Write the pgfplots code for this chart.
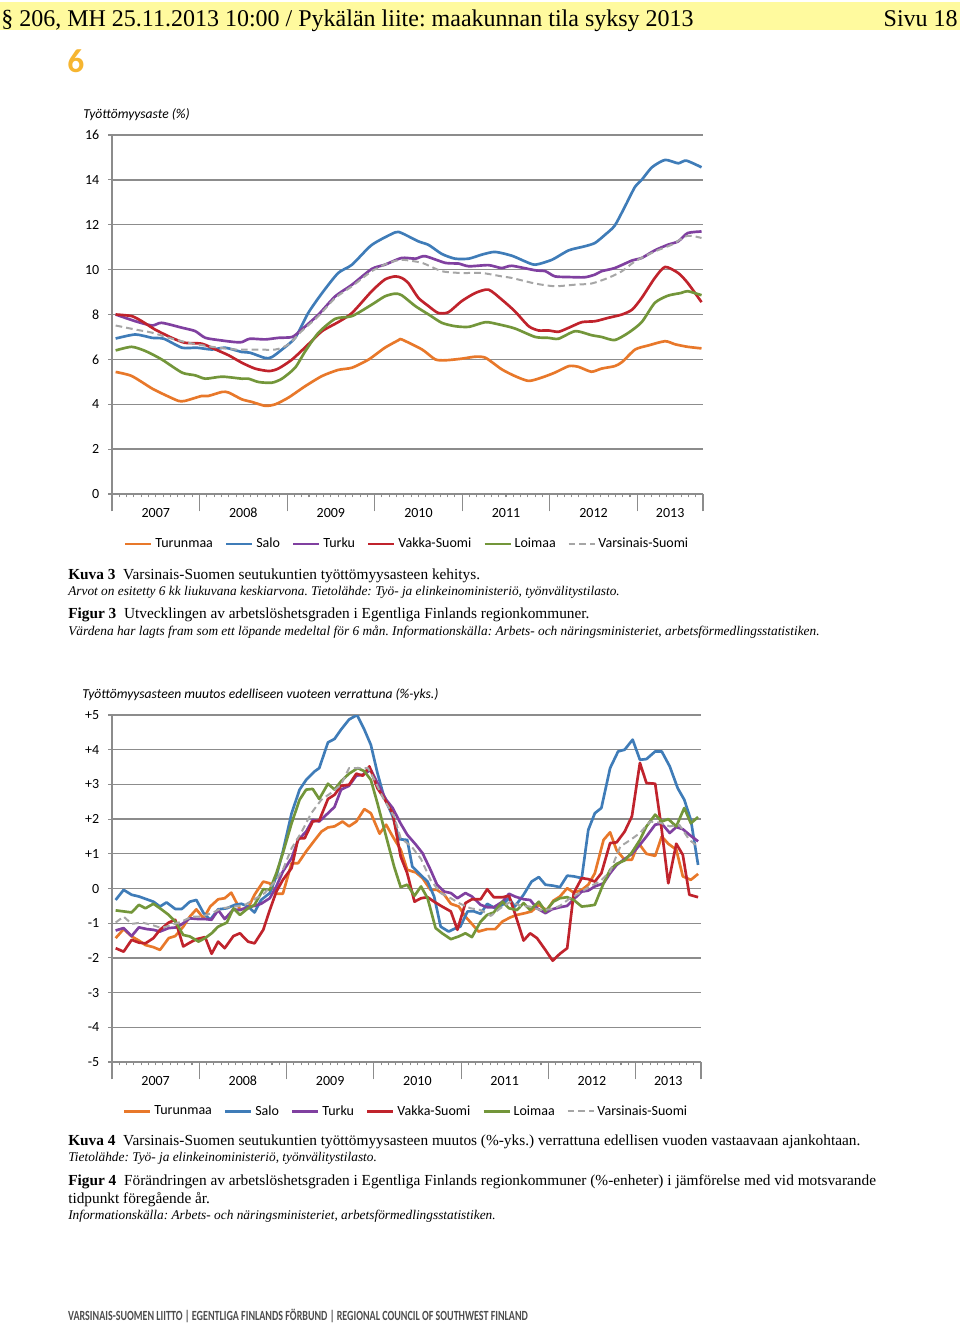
\documentclass[border=0pt]{standalone}
\usepackage{fontspec}
\setmainfont{Liberation Serif}
\newfontfamily\carlito{Carlito}
\usepackage{pgfplots}
\pgfplotsset{compat=1.18}
\frenchspacing

\definecolor{cTurunmaa}{HTML}{E8782A}
\definecolor{cSalo}{HTML}{3F7CB8}
\definecolor{cTurku}{HTML}{8040A0}
\definecolor{cVakka}{HTML}{C0232C}
\definecolor{cLoimaa}{HTML}{73963A}
\definecolor{cVS}{HTML}{A6A6A6}
\definecolor{gridgray}{HTML}{8C8C8C}
\definecolor{headyellow}{HTML}{FFFA9E}
\definecolor{numorange}{HTML}{F6B530}
\definecolor{footgray}{HTML}{4D4D4D}

\pgfplotsset{
  kuva/.style={
    scale only axis,
    xmin=-0.5, xmax=80.5,
    axis lines*=left,
    axis line style={gridgray, line width=1pt},
    tick align=outside,
    tick pos=left,
    major tick length=3pt,
    minor tick length=2.5pt,
    tick style={gridgray, line width=0.8pt},
    xtick={5.5,17.5,29.5,41.5,53.5,65.5,76},
    xticklabels={2007,2008,2009,2010,2011,2012,2013},
    major x tick style={draw=none},
    minor xtick={0.5,1.5,...,79.5},
    extra x ticks={-0.5,11.5,23.5,35.5,47.5,59.5,71.5,80.5},
    extra x tick labels={,,,,,,,},
    extra x tick style={major tick length=13pt, major x tick style={draw=gridgray}},
    ymajorgrids,
    grid style={gridgray, line width=1pt},
    tick label style={font=\carlito\fontsize{10.5}{12}\selectfont, text=black},
    xticklabel style={text height=7.5pt, text depth=0pt, yshift=-3.6pt},
    yticklabel style={xshift=-3pt},
    legend style={draw=none, fill=none, legend columns=-1,
      font=\carlito\fontsize{10.5}{12}\selectfont, anchor=center,
      /tikz/every even column/.append style={column sep=7pt}},
    legend image code/.code={\draw[#1] (0pt,0pt) -- (19.5pt,0pt);},
    every axis plot/.append style={line width=2pt, line join=round},
  },
}

\begin{document}
\begin{tikzpicture}
\path[use as bounding box] (0,0) rectangle (720pt,-993.75pt);

\begin{scope}[x=0.75pt,y=-0.75pt]
\fill[headyellow] (0,2) rectangle (960,30);
\node[anchor=base west, inner sep=0, font=\fontsize{18}{20}\selectfont] at (1,26) {§ 206, MH 25.11.2013 10:00 / Pykälän liite: maakunnan tila syksy 2013};
\node[anchor=base east, inner sep=0, font=\fontsize{18}{20}\selectfont] at (958,26) {Sivu 18};
\node[anchor=base west, inner sep=0, text=numorange, font=\carlito\bfseries\fontsize{25}{25}\selectfont] at (67,72) {6};
\node[anchor=base west, inner sep=0, font=\carlito\itshape\fontsize{10.2}{12}\selectfont] at (83,118) {Työttömyysaste (\%)};
\node[anchor=base west, inner sep=0, font=\carlito\itshape\fontsize{10.2}{12}\selectfont] at (82,698) {Työttömyysasteen muutos edelliseen vuoteen verrattuna (\%-yks.)};

\node[anchor=base west, inner sep=0, font=\fontsize{11.5}{13}\selectfont] at (68,579) {\textbf{Kuva 3}\enspace Varsinais-Suomen seutukuntien työttömyysasteen kehitys.};
\node[anchor=base west, inner sep=0, font=\itshape\fontsize{10}{11}\selectfont] at (68,595) {Arvot on esitetty 6 kk liukuvana keskiarvona. Tietolähde: Työ- ja elinkeinoministeriö, työnvälitystilasto.};
\node[anchor=base west, inner sep=0, font=\fontsize{11.5}{13}\selectfont] at (68,618) {\textbf{Figur 3}\enspace Utvecklingen av arbetslöshetsgraden i Egentliga Finlands regionkommuner.};
\node[anchor=base west, inner sep=0, font=\itshape\fontsize{10}{11}\selectfont] at (68,635) {Värdena har lagts fram som ett löpande medeltal för 6 mån. Informationskälla: Arbets- och näringsministeriet, arbetsförmedlingsstatistiken.};

\node[anchor=base west, inner sep=0, font=\fontsize{11.5}{13}\selectfont] at (68,1145) {\textbf{Kuva 4}\enspace Varsinais-Suomen seutukuntien työttömyysasteen muutos (\%-yks.) verrattuna edellisen vuoden vastaavaan ajankohtaan.};
\node[anchor=base west, inner sep=0, font=\itshape\fontsize{10}{11}\selectfont] at (68,1161) {Tietolähde: Työ- ja elinkeinoministeriö, työnvälitystilasto.};
\node[anchor=base west, inner sep=0, font=\fontsize{11.5}{13}\selectfont] at (68,1185) {\textbf{Figur 4}\enspace Förändringen av arbetslöshetsgraden i Egentliga Finlands regionkommuner (\%-enheter) i jämförelse med vid motsvarande};
\node[anchor=base west, inner sep=0, font=\fontsize{11.5}{13}\selectfont] at (68,1203) {tidpunkt föregående år.};
\node[anchor=base west, inner sep=0, font=\itshape\fontsize{10}{11}\selectfont] at (68,1219) {Informationskälla: Arbets- och näringsministeriet, arbetsförmedlingsstatistiken.};

\node[anchor=base west, inner sep=0, xscale=0.717, text=footgray, font=\carlito\bfseries\fontsize{10.5}{12}\selectfont] at (68,1320) {VARSINAIS-SUOMEN LIITTO | EGENTLIGA FINLANDS FÖRBUND | REGIONAL COUNCIL OF SOUTHWEST FINLAND};
\end{scope}

% Kuva 3: unemployment rate, 6-month moving average
\begin{axis}[kuva,
  at={(84pt,-370.5pt)}, anchor=south west,
  width=443.25pt, height=269.25pt,
  ymin=0, ymax=16,
  ytick={0,2,...,16},
  yticklabels={0,2,4,6,8,10,12,14,16},
  legend style={at={(0.5,-0.139)}},
  every axis plot/.append style={smooth, tension=0.4},
]
\addplot[cTurunmaa] coordinates {(0,5.44)(2.2,5.26)(5.0,4.7)(6.8,4.41)(8.6,4.15)(9.5,4.15)(11.8,4.37)(12.7,4.37)(14.6,4.55)(15.5,4.52)(17.3,4.22)(18.7,4.1)(20.5,3.93)(21.9,4.0)(23.7,4.3)(26.0,4.81)(28.3,5.26)(30.5,5.53)(32.4,5.63)(34.7,6.0)(36.9,6.52)(38.8,6.86)(39.2,6.89)(42.0,6.44)(43.8,6.0)(45.2,5.96)(47.4,6.03)(49.3,6.12)(50.7,6.07)(52.9,5.56)(54.7,5.26)(56.6,5.04)(58.4,5.19)(60.2,5.41)(62.1,5.7)(63.4,5.67)(65.2,5.45)(66.6,5.59)(68.4,5.7)(69.4,5.88)(71.2,6.44)(73.0,6.62)(75.3,6.81)(76.7,6.67)(78.4,6.56)(80.3,6.49)};
\addplot[cSalo] coordinates {(0,6.93)(2.7,7.11)(5,6.96)(6.6,6.92)(9.1,6.52)(11.1,6.52)(13.2,6.44)(15,6.52)(17.3,6.33)(18.4,6.3)(20.5,6.06)(21.4,6.1)(22.8,6.44)(24.6,6.96)(26.4,8.07)(28.3,8.96)(30.5,9.85)(32.4,10.22)(35.1,11.1)(38.3,11.66)(39.2,11.63)(41.5,11.26)(42.9,11.1)(44.7,10.7)(46.5,10.49)(48.4,10.49)(50.2,10.67)(52,10.79)(54.3,10.62)(56.1,10.37)(57.5,10.22)(59.8,10.44)(62.1,10.86)(64.3,11.04)(65.7,11.19)(67.1,11.56)(68.4,11.96)(69.8,12.81)(71.2,13.7)(72.1,14.0)(73.5,14.56)(75.3,14.89)(77.1,14.74)(78.2,14.86)(80.3,14.56)};
\addplot[cTurku] coordinates {(0,8.0)(2.7,7.7)(5,7.51)(6.3,7.63)(9.1,7.41)(10.9,7.26)(12.3,6.96)(14.6,6.84)(16.4,6.77)(17.3,6.77)(18.4,6.92)(20.5,6.89)(22.3,6.96)(24.2,7.0)(25.5,7.33)(27.8,8.0)(30.1,8.81)(32.4,9.33)(35.1,10.03)(36.9,10.22)(39.2,10.52)(41.1,10.49)(42.4,10.6)(45.2,10.3)(47.0,10.27)(48.4,10.15)(51.1,10.2)(52.9,10.07)(54.3,10.17)(57.5,9.97)(58.9,9.93)(60.2,9.7)(62.1,9.67)(64.3,9.66)(65.7,9.78)(66.6,9.93)(68.4,10.07)(70.8,10.41)(72.1,10.52)(73.9,10.86)(75.7,11.11)(77.1,11.26)(78.4,11.63)(80.3,11.7)};
\addplot[cVakka] coordinates {(0,8.0)(2.2,7.93)(3.6,7.7)(5.4,7.33)(7.7,6.96)(9.5,6.74)(11.8,6.7)(13.7,6.44)(15.5,6.18)(17.3,5.85)(19.1,5.59)(21.0,5.48)(22.3,5.59)(24.2,6.0)(26.4,6.67)(28.3,7.26)(30.5,7.66)(32.4,8.07)(35.1,9.04)(36.9,9.56)(38.3,9.7)(39.2,9.63)(40.1,9.41)(41.5,8.74)(42.9,8.37)(44.2,8.07)(45.6,8.1)(47.4,8.59)(49.3,8.96)(51.1,9.11)(52.9,8.67)(54.7,8.15)(56.6,7.48)(57.95,7.29)(59.3,7.29)(60.7,7.23)(62.1,7.41)(63.9,7.66)(65.7,7.7)(67.5,7.85)(69.4,8.0)(70.8,8.22)(72.1,8.74)(73.9,9.63)(75.3,10.12)(77.1,9.85)(78.4,9.41)(80.3,8.55)};
\addplot[cLoimaa] coordinates {(0,6.4)(2.2,6.56)(4.1,6.37)(6.3,6.0)(9.1,5.41)(10.9,5.29)(12.3,5.14)(14.6,5.23)(17.3,5.14)(18.2,5.14)(19.6,4.99)(21.4,4.96)(22.8,5.14)(24.6,5.63)(26.0,6.37)(27.8,7.19)(30.1,7.81)(32.4,7.93)(35.1,8.44)(36.9,8.81)(38.3,8.93)(39.2,8.86)(41.1,8.37)(42.9,8.0)(44.7,7.63)(46.5,7.48)(48.4,7.45)(50.7,7.66)(52.5,7.56)(54.7,7.38)(57.5,7.0)(59.3,6.96)(60.7,6.92)(63.0,7.26)(65.2,7.08)(66.6,7.0)(68.4,6.86)(70.3,7.19)(72.1,7.66)(73.9,8.52)(75.7,8.84)(77.5,8.96)(78.4,9.04)(80.3,8.86)};
\addplot[cVS, line width=1.5pt, dash pattern=on 5pt off 3pt] coordinates {(0,7.51)(2.7,7.33)(5,7.19)(7.3,6.96)(10,6.74)(13.2,6.56)(16.4,6.44)(18.7,6.44)(21.9,6.44)(23.7,6.67)(25.5,7.26)(27.8,7.93)(30.1,8.74)(32.4,9.26)(35.1,9.93)(37.4,10.3)(39.2,10.44)(42.0,10.3)(44.7,9.93)(47.4,9.85)(50.2,9.85)(52.9,9.7)(54.3,9.63)(57.5,9.38)(60.2,9.26)(63.0,9.33)(65.2,9.38)(67.5,9.63)(69.4,9.93)(71.2,10.37)(73.9,10.81)(76.2,11.11)(78.4,11.51)(80.3,11.41)};
\legend{Turunmaa,Salo,Turku,Vakka-Suomi,Loimaa,Varsinais-Suomi}
\end{axis}

% Kuva 4: change from the same month a year earlier (percentage points)
\begin{axis}[kuva,
  at={(84pt,-796.5pt)}, anchor=south west,
  width=441.75pt, height=260.25pt,
  ymin=-5, ymax=5,
  ytick={-5,-4,...,5},
  yticklabels={-5,-4,-3,-2,-1,0,+1,+2,+3,+4,+5},
  legend style={at={(0.5,-0.142)}},
]
\addplot[cTurunmaa] coordinates {(0,-1.43)(1.1,-1.17)(2.2,-1.38)(3.2,-1.5)(4.1,-1.63)(5.2,-1.69)(6.1,-1.77)(7.3,-1.43)(8.2,-1.37)(9.3,-1.10)(10.2,-0.81)(11.1,-0.60)(12.1,-0.86)(13.0,-0.52)(14.1,-0.31)(15.0,-0.28)(15.9,-0.12)(17.1,-0.60)(18.2,-0.57)(19.1,-0.18)(20.3,0.2)(21.2,0.15)(22.1,-0.15)(23.0,-0.15)(24.2,0.73)(25.1,0.73)(26.2,1.07)(27.4,1.40)(28.3,1.64)(29.2,1.76)(30.1,1.79)(31.2,1.93)(32.1,1.79)(33.1,1.93)(34.2,2.29)(35.1,2.17)(36.3,1.58)(37.2,1.84)(38.1,1.5)(39.2,1.12)(40.1,0.54)(41.3,0.46)(42.2,0.3)(43.3,-0.04)(44.2,-0.04)(45.2,-0.18)(46.1,-0.44)(47.2,-0.52)(48.1,-0.81)(49.0,-1.02)(49.9,-1.24)(51.1,-1.17)(52.2,-1.17)(53.2,-0.95)(54.3,-0.83)(55.2,-0.76)(56.3,-0.71)(57.2,-0.66)(58.2,-0.47)(59.3,-0.63)(60.2,-0.35)(61.1,-0.23)(62.1,0.01)(63.0,-0.12)(64.1,-0.04)(65.0,0.11)(65.9,0.44)(67.1,1.40)(68.0,1.62)(68.9,1.10)(70.0,0.83)(71.0,0.83)(71.9,1.31)(73.0,1.0)(74.2,0.94)(75.1,1.5)(76.0,1.29)(77.1,1.12)(78.0,0.35)(79.1,0.25)(80.1,0.42)};
\addplot[cSalo] coordinates {(0,-0.33)(1.1,-0.04)(2.2,-0.18)(3.2,-0.23)(5.2,-0.38)(6.1,-0.52)(7.0,-0.40)(8.2,-0.59)(9.1,-0.59)(10.2,-0.38)(11.1,-0.33)(12.1,-0.71)(13.0,-0.90)(14.1,-0.60)(15.3,-0.57)(16.4,-0.47)(17.3,-0.44)(18.2,-0.52)(19.1,-0.69)(20.0,-0.33)(21.2,-0.13)(22.1,0.35)(23.0,1.07)(24.2,2.17)(25.3,2.85)(26.2,3.13)(27.4,3.38)(28.0,3.47)(29.2,4.21)(30.1,4.31)(31.0,4.58)(32.1,4.87)(33.2,5.0)(34.2,4.58)(35.1,4.14)(36.0,3.33)(36.9,2.65)(38.1,2.08)(39.0,1.42)(40.1,1.40)(40.8,0.63)(41.7,0.44)(42.9,0.2)(43.8,-0.23)(44.7,-1.1)(45.8,-1.24)(46.8,-1.14)(47.4,-1.1)(48.4,-0.66)(49.3,-0.66)(50.2,-0.73)(51.1,-0.44)(52.2,-0.57)(53.2,-0.47)(54.1,-0.28)(54.9,-0.52)(56.1,-0.18)(57.2,0.2)(58.2,0.33)(59.1,0.11)(60.2,0.08)(61.1,0.04)(62.1,0.37)(63.0,0.35)(64.1,0.3)(65.0,1.69)(65.9,2.17)(66.8,2.32)(68.0,3.47)(69.1,3.95)(70.0,4.0)(71.1,4.29)(72.1,3.71)(73.0,3.73)(74.2,3.95)(75.1,3.95)(76.2,3.52)(77.3,2.89)(78.2,2.56)(79.1,1.98)(80.1,0.68)};
\addplot[cTurku] coordinates {(0,-1.21)(1.1,-1.14)(2.2,-1.37)(3.2,-1.12)(4.3,-1.17)(5.2,-1.19)(6.1,-1.24)(7.3,-1.14)(8.4,-1.12)(9.3,-1.0)(10.2,-0.86)(11.4,-0.88)(12.3,-0.88)(13.2,-0.90)(14.1,-0.62)(15.0,-0.88)(16.2,-0.60)(17.1,-0.62)(18.2,-0.54)(19.1,-0.50)(20.0,-0.44)(21.2,-0.28)(22.1,0.06)(23.0,0.49)(24.2,0.88)(25.1,1.40)(26.2,1.64)(27.1,1.98)(28.0,1.93)(29.2,2.17)(30.1,2.35)(31.0,2.85)(32.1,2.96)(33.1,3.25)(34.0,3.28)(35.1,3.42)(36.0,3.04)(37.2,2.56)(38.1,2.32)(39.2,1.87)(40.1,1.55)(41.3,1.26)(42.2,1.02)(43.3,0.54)(44.2,0.11)(45.2,-0.09)(46.1,-0.13)(47.0,-0.28)(48.1,-0.13)(49.0,-0.23)(50.2,-0.47)(51.1,-0.54)(52.0,-0.54)(53.2,-0.38)(54.1,-0.15)(54.9,-0.23)(56.1,-0.31)(57.0,-0.33)(57.95,-0.57)(59.1,-0.71)(60.0,-0.60)(61.1,-0.54)(62.1,-0.50)(63.0,-0.31)(64.1,-0.09)(65.0,-0.06)(65.9,0.06)(67.1,0.15)(68.0,0.44)(68.9,0.68)(70.0,0.85)(71.0,1.0)(71.9,1.21)(73.0,1.5)(74.2,1.84)(75.1,1.87)(76.2,1.60)(77.1,1.77)(78.0,1.71)(78.9,1.55)(80.1,1.36)};
\addplot[cVakka] coordinates {(0,-1.72)(1.1,-1.82)(2.2,-1.48)(3.2,-1.56)(4.1,-1.58)(5.2,-1.43)(6.1,-1.19)(7.3,-0.98)(8.2,-0.90)(9.3,-1.67)(10.2,-1.56)(11.1,-1.46)(12.3,-1.40)(13.2,-1.88)(14.1,-1.53)(15.0,-1.72)(16.2,-1.37)(17.1,-1.29)(18.2,-1.53)(19.1,-1.58)(20.3,-1.19)(21.2,-0.62)(22.1,-0.09)(23.0,0.25)(24.2,0.59)(25.1,1.45)(26.0,1.45)(27.1,1.93)(28.0,1.96)(29.2,2.58)(30.1,2.70)(31.0,2.96)(32.1,2.99)(33.1,3.31)(34.0,3.25)(34.9,3.52)(36.0,2.89)(36.9,2.61)(38.1,2.17)(39.2,0.92)(40.1,0.44)(41.1,-0.38)(42.0,-0.28)(42.9,-0.25)(43.8,-0.38)(44.9,-0.52)(46.1,-0.66)(47.0,-1.19)(48.1,-0.42)(49.0,-0.31)(50.2,-0.31)(51.1,-0.02)(52.0,-0.25)(53.2,-0.25)(54.1,-0.21)(54.9,-0.71)(56.1,-1.5)(57.0,-1.29)(57.95,-1.43)(59.1,-1.77)(60.1,-2.08)(61.1,-1.88)(62.1,-1.72)(63.0,-0.13)(64.1,0.3)(65.0,0.27)(65.9,0.2)(66.8,0.44)(68.0,1.31)(68.9,1.33)(70.0,1.64)(71.0,2.08)(72.1,3.62)(73.0,3.04)(74.2,3.02)(75.1,1.69)(76.0,0.15)(77.1,1.29)(78.0,0.97)(78.9,-0.18)(80.1,-0.25)};
\addplot[cLoimaa] coordinates {(0,-0.63)(1.1,-0.66)(2.2,-0.69)(3.2,-0.47)(4.1,-0.57)(5.2,-0.44)(6.1,-0.57)(7.3,-0.76)(8.2,-0.95)(9.3,-1.34)(10.2,-1.38)(11.4,-1.53)(12.3,-1.43)(13.2,-1.29)(14.1,-1.10)(15.3,-0.98)(16.2,-0.57)(17.1,-0.76)(18.2,-0.57)(19.1,-0.47)(20.3,-0.02)(21.2,-0.04)(22.1,0.44)(23.0,1.02)(24.2,1.88)(25.3,2.56)(26.2,2.85)(27.1,2.87)(28.0,2.58)(29.2,3.02)(30.1,2.85)(31.0,3.09)(32.1,3.31)(33.3,3.47)(34.2,3.38)(35.1,3.13)(36.0,2.46)(37.2,1.5)(38.3,0.63)(39.2,0.04)(40.1,0.11)(41.1,-0.21)(42.0,0.06)(42.9,-0.28)(44.0,-1.14)(44.9,-1.29)(46.1,-1.46)(47.2,-1.38)(48.1,-1.29)(49.0,-1.4)(50.2,-0.95)(51.1,-0.76)(52.0,-0.69)(53.2,-0.38)(54.1,-0.57)(55.2,-0.62)(56.1,-0.42)(57.0,-0.62)(58.2,-0.38)(59.1,-0.66)(60.2,-0.38)(61.1,-0.28)(62.1,-0.25)(63.0,-0.33)(64.1,-0.52)(65.0,-0.50)(65.9,-0.47)(67.1,0.15)(68.0,0.54)(68.9,0.71)(70.0,0.81)(71.0,1.04)(72.1,1.40)(73.0,1.79)(74.2,2.13)(75.1,1.93)(76.0,2.0)(77.1,1.79)(78.2,2.32)(79.1,1.88)(80.1,2.06)};
\addplot[cVS, line width=1.5pt, dash pattern=on 5pt off 3pt] coordinates {(0,-0.98)(1.1,-0.81)(2.2,-1.02)(3.6,-0.98)(5.0,-1.05)(6.3,-1.14)(7.7,-1.05)(9.1,-0.95)(10.5,-0.81)(11.8,-0.81)(13.2,-0.71)(14.6,-0.57)(16.4,-0.52)(17.8,-0.47)(19.1,-0.31)(20.5,-0.13)(21.9,0.2)(23.0,0.54)(24.2,1.16)(25.5,1.6)(26.9,2.17)(28.3,2.56)(29.6,2.75)(31.0,2.99)(32.1,3.47)(33.3,3.47)(34.7,3.47)(35.6,3.13)(36.9,2.56)(38.3,2.08)(39.2,1.45)(40.7,1.21)(42.0,0.85)(43.3,0.25)(44.7,-0.13)(46.1,-0.28)(47.4,-0.44)(48.8,-0.57)(50.2,-0.62)(51.6,-0.79)(52.9,-0.57)(54.3,-0.38)(55.7,-0.50)(57.0,-0.52)(58.4,-0.62)(59.8,-0.60)(61.1,-0.50)(62.5,-0.28)(63.9,-0.12)(65.2,0.06)(66.6,0.2)(68.0,0.49)(69.4,1.21)(70.8,1.40)(72.1,1.60)(73.5,1.93)(74.8,1.90)(76.2,1.79)(77.5,1.84)(78.9,1.40)(80.1,1.21)};
\legend{Turunmaa,Salo,Turku,Vakka-Suomi,Loimaa,Varsinais-Suomi}
\end{axis}
\end{tikzpicture}
\end{document}
